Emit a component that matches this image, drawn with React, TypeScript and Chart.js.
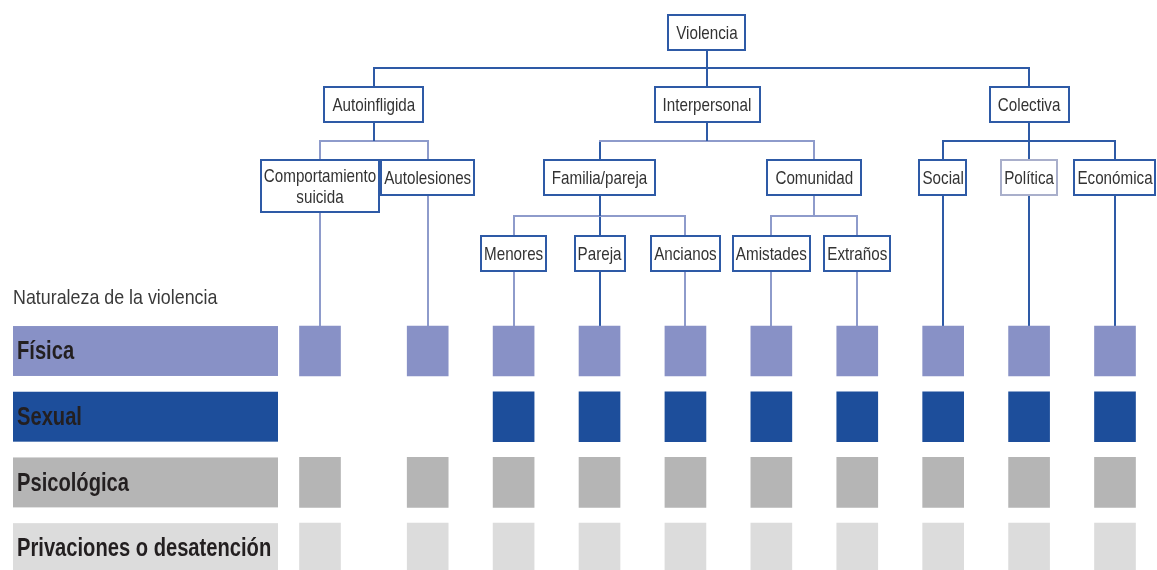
import React, { useEffect, useRef } from 'react';
import { Chart, registerables } from 'chart.js';

Chart.register(...registerables);

// ---------- DATA ----------
const NATURE_ROWS = ['Física', 'Sexual', 'Psicológica', 'Privaciones o desatención'];

const TREE_LABELS = [
  'Violencia',
  'Autoinfligida', 'Interpersonal', 'Colectiva',
  'Comportamiento\nsuicida', 'Autolesiones',
  'Familia/pareja', 'Comunidad',
  'Social', 'Política', 'Económica',
  'Menores', 'Pareja', 'Ancianos',
  'Amistades', 'Extraños',
];
const TREE_PARENTS: (string | null)[] = [
  null,
  'Violencia', 'Violencia', 'Violencia',
  'Autoinfligida', 'Autoinfligida',
  'Interpersonal', 'Interpersonal',
  'Colectiva', 'Colectiva', 'Colectiva',
  'Familia/pareja', 'Familia/pareja', 'Familia/pareja',
  'Comunidad', 'Comunidad',
];

// presence per leaf (leaf order = depth-first order of the tree)
const FISICA = [1, 1, 1, 1, 1, 1, 1, 1, 1, 1];
const SEXUAL = [0, 0, 1, 1, 1, 1, 1, 1, 1, 1];
const PSICOLOGICA = [1, 1, 1, 1, 1, 1, 1, 1, 1, 1];
const PRIVACIONES = [1, 1, 1, 1, 1, 1, 1, 1, 1, 1];
const MATRIX = [FISICA, SEXUAL, PSICOLOGICA, PRIVACIONES];

const TITLE = 'Naturaleza de la violencia';

// ---------- STYLE / LAYOUT ----------
const NATURE_COLORS = ['#8891C6', '#1D4E9B', '#B5B5B5', '#DCDCDC'];
const DARK = '#2E5AA6';
const LIGHT = '#8E9BCB';
const FONT_FAMILY = '"Liberation Sans", Arial, sans-serif';
const BOX_FONT = `19px ${FONT_FAMILY}`;
const BOX_SQUEEZE = 0.8;
const ROW_FONT = `bold 26px ${FONT_FAMILY}`;
const ROW_SQUEEZE = 0.775;
const TITLE_FONT = `21px ${FONT_FAMILY}`;
const TITLE_SQUEEZE = 0.85;
const PAD_INNER = 8;
const PAD_LEAF = 3;
const LEAF_GAP = 2;
const BOX_H = 35;
const LINE_H = 21;
const HALF = 0.38;
const Y_MIN = -5.342;
const Y_MAX = 3.333;
const LEVEL_TOP = [-5.114, -4.018, -2.907, -1.75];
const TITLE_Y = -0.8;
const LABEL_LEFT = 13;
const LABEL_RIGHT = 278;
const EDGE = 42;
const STEM_LIGHT = new Set(['Comunidad']);
const BAR_DARK = new Set(['Violencia', 'Colectiva']);
const IN_DARK = new Set(['Autoinfligida', 'Interpersonal', 'Colectiva', 'Familia/pareja', 'Pareja', 'Social', 'Política', 'Económica']);
const LIGHT_BORDER = new Set(['Política']);

type TNode = {
  label: string;
  lines: string[];
  parent: TNode | null;
  children: TNode[];
  depth: number;
  x: number;
  w: number;
};

function drawText(ctx: CanvasRenderingContext2D, s: string, x: number, y: number, align: CanvasTextAlign, squeeze: number) {
  ctx.save();
  ctx.translate(x, y);
  ctx.scale(squeeze, 1);
  ctx.textAlign = align;
  ctx.fillText(s, 0, 0);
  ctx.restore();
}

function buildTree(ctx: CanvasRenderingContext2D, W: number) {
  const map = new Map<string, TNode>();
  TREE_LABELS.forEach((l) =>
    map.set(l, { label: l, lines: l.split('\n'), parent: null, children: [], depth: 0, x: 0, w: 0 })
  );
  let root: TNode | null = null;
  TREE_LABELS.forEach((l, i) => {
    const n = map.get(l)!;
    const p = TREE_PARENTS[i];
    if (p) {
      const pn = map.get(p)!;
      n.parent = pn;
      pn.children.push(n);
    } else root = n;
  });
  ctx.font = BOX_FONT;
  const all: TNode[] = [];
  const leaves: TNode[] = [];
  const walk = (n: TNode, d: number) => {
    n.depth = d;
    const pad = n.children.length ? PAD_INNER : PAD_LEAF;
    n.w = Math.max(...n.lines.map((s) => ctx.measureText(s).width * BOX_SQUEEZE)) + 2 * pad;
    all.push(n);
    if (!n.children.length) leaves.push(n);
    n.children.forEach((c) => walk(c, d + 1));
  };
  walk(root!, 0);

  // leaf spacing
  const first = LABEL_RIGHT + EDGE;
  const last = W - EDGE;
  const target = last - first;
  const needs: number[] = [];
  for (let i = 1; i < leaves.length; i++) needs.push((leaves[i - 1].w + leaves[i].w) / 2 + LEAF_GAP);
  const f = (s: number) => needs.reduce((a, nd) => a + Math.max(s, nd), 0);
  let lo = 0, hi = target;
  for (let k = 0; k < 60; k++) {
    const mid = (lo + hi) / 2;
    if (f(mid) > target) hi = mid; else lo = mid;
  }
  const S = lo;
  const steps = needs.map((nd) => Math.max(S, nd));
  const scale = target / steps.reduce((a, b) => a + b, 0);
  let cur = first;
  leaves.forEach((lf, i) => {
    if (i > 0) cur += steps[i - 1] * scale;
    lf.x = cur;
  });
  const place = (n: TNode) => {
    if (!n.children.length) return;
    n.children.forEach(place);
    const k = n.children.length;
    if (k % 2 === 1) n.x = n.children[(k - 1) / 2].x;
    else n.x = n.children.reduce((a, c) => a + c.x, 0) / k;
  };
  place(root!);
  return { all, leaves };
}

export default function App() {
  const wrapRef = useRef<HTMLDivElement>(null);
  const canvasRef = useRef<HTMLCanvasElement>(null);

  useEffect(() => {
    const wrap = wrapRef.current!;
    const canvas = canvasRef.current!;
    const W = wrap.clientWidth;
    const mctx = document.createElement('canvas').getContext('2d')!;
    const { all, leaves } = buildTree(mctx, W);

    const boxH = (n: TNode) => (n.lines.length > 1 ? BOX_H + (n.lines.length - 1) * 17 : BOX_H);

    const treePlugin = {
      id: 'violenceTree',
      beforeDatasetsDraw(chart: any) {
        const { ctx } = chart;
        const xs = chart.scales.x;
        const ys = chart.scales.y;
        const px = (v: number) => xs.getPixelForValue(v);
        const py = (v: number) => ys.getPixelForValue(v);
        ctx.save();

        // row label bars
        NATURE_ROWS.forEach((name, r) => {
          const top = py(r - HALF);
          const bot = py(r + HALF);
          ctx.fillStyle = NATURE_COLORS[r];
          ctx.fillRect(LABEL_LEFT, top, LABEL_RIGHT - LABEL_LEFT, bot - top);
          ctx.fillStyle = '#231F20';
          ctx.font = ROW_FONT;
          ctx.textBaseline = 'middle';
          drawText(ctx, name, LABEL_LEFT + 4, (top + bot) / 2 + 1, 'left', ROW_SQUEEZE);
        });

        // title
        ctx.fillStyle = '#3A3A3A';
        ctx.font = TITLE_FONT;
        ctx.textBaseline = 'middle';
        drawText(ctx, TITLE, LABEL_LEFT, py(TITLE_Y), 'left', TITLE_SQUEEZE);

        // connectors
        ctx.lineWidth = 2;
        const line = (x1: number, y1: number, x2: number, y2: number, c: string) => {
          ctx.strokeStyle = c;
          ctx.beginPath();
          ctx.moveTo(x1, y1);
          ctx.lineTo(x2, y2);
          ctx.stroke();
        };
        all.forEach((n) => {
          const top = py(LEVEL_TOP[n.depth]);
          const bottom = top + boxH(n);
          const x = Math.round(px(n.x));
          if (!n.children.length) {
            line(x, bottom, x, py(-HALF), IN_DARK.has(n.label) ? DARK : LIGHT);
            return;
          }
          const childTop = py(LEVEL_TOP[n.depth + 1]);
          const midY = Math.round((bottom + childTop) / 2);
          const cx = n.children.map((c) => Math.round(px(c.x)));
          n.children.forEach((c, i) => {
            line(cx[i], midY, cx[i], childTop, IN_DARK.has(c.label) ? DARK : LIGHT);
          });
          line(Math.min(...cx) - 1, midY, Math.max(...cx) + 1, midY, BAR_DARK.has(n.label) ? DARK : LIGHT);
          line(x, bottom, x, midY, STEM_LIGHT.has(n.label) ? LIGHT : DARK);
        });

        // boxes
        all.forEach((n) => {
          const top = Math.round(py(LEVEL_TOP[n.depth]));
          const h = boxH(n);
          const x = px(n.x);
          const left = Math.round(x - n.w / 2);
          ctx.fillStyle = '#FFFFFF';
          ctx.fillRect(left, top, Math.round(n.w), h);
          ctx.strokeStyle = LIGHT_BORDER.has(n.label) ? '#A9AFCB' : DARK;
          ctx.lineWidth = 2;
          ctx.strokeRect(left, top, Math.round(n.w), h);
          ctx.fillStyle = '#333333';
          ctx.font = BOX_FONT;
          ctx.textBaseline = 'middle';
          const k = n.lines.length;
          n.lines.forEach((s, i) => {
            const cy = top + h / 2 + (i - (k - 1) / 2) * LINE_H + 1;
            drawText(ctx, s, x, cy, 'center', BOX_SQUEEZE);
          });
        });
        ctx.restore();
      },
    };

    const datasets = NATURE_ROWS.map((name, r) => ({
      label: name,
      data: leaves
        .map((lf, i) => (MATRIX[r][i] ? { x: lf.x, y: [r - HALF, r + HALF] } : null))
        .filter((d) => d !== null) as any[],
      backgroundColor: NATURE_COLORS[r],
      borderWidth: 0,
      grouped: false,
      barThickness: 41,
    }));

    const chart = new Chart(canvas, {
      type: 'bar',
      data: { datasets: datasets as any },
      options: {
        animation: false,
        responsive: true,
        maintainAspectRatio: false,
        layout: { padding: 0 },
        plugins: { legend: { display: false }, tooltip: { enabled: false } },
        scales: {
          x: { type: 'linear', display: false, min: 0, max: W, offset: false, grid: { display: false } },
          y: { type: 'linear', display: false, min: Y_MIN, max: Y_MAX, reverse: true, grid: { display: false } },
        },
      },
      plugins: [treePlugin],
    });
    return () => chart.destroy();
  }, []);

  return (
    <div
      ref={wrapRef}
      style={{ position: 'fixed', left: 0, top: 0, width: '100vw', height: '100vh', background: '#FFFFFF' }}
    >
      <canvas ref={canvasRef} />
    </div>
  );
}
